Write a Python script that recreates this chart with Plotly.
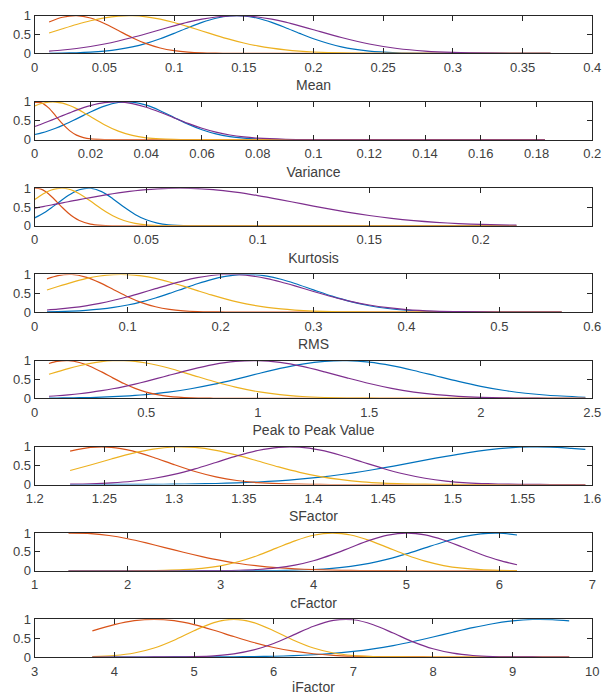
import plotly.graph_objects as go

# ---------------- data ----------------
mean_x = [0.0103, 0.02, 0.03, 0.04, 0.05, 0.06, 0.07, 0.08, 0.09, 0.10, 0.11, 0.12, 0.13, 0.14,
          0.15, 0.16, 0.17, 0.18, 0.19, 0.20, 0.22, 0.24, 0.26, 0.28, 0.30, 0.33, 0.37]
mean_blue = [0.003, 0.008, 0.016, 0.032, 0.060, 0.105, 0.172, 0.267, 0.389, 0.531, 0.682, 0.823, 0.932, 0.992,
             0.992, 0.932, 0.823, 0.682, 0.531, 0.389, 0.172, 0.060, 0.016, 0.003, 0, 0, 0]
mean_orange = [0.834, 0.958, 1.0, 0.939, 0.795, 0.607, 0.417, 0.258, 0.144, 0.073, 0.033, 0.013, 0.005, 0.001,
               0, 0, 0, 0, 0, 0, 0, 0, 0, 0, 0, 0, 0]
mean_yellow = [0.54, 0.654, 0.767, 0.867, 0.944, 0.989, 0.999, 0.971, 0.909, 0.819, 0.711, 0.595, 0.479, 0.371,
               0.277, 0.199, 0.138, 0.092, 0.059, 0.037, 0.012, 0.004, 0.001, 0, 0, 0, 0]
mean_purple = [0.061, 0.090, 0.130, 0.183, 0.249, 0.329, 0.421, 0.522, 0.628, 0.732, 0.828, 0.908, 0.966, 0.996,
               0.996, 0.966, 0.908, 0.828, 0.732, 0.628, 0.421, 0.249, 0.130, 0.061, 0.025, 0.005, 0]

var_x = [0, 0.0025, 0.005, 0.0075, 0.01, 0.0125, 0.015, 0.0175, 0.02, 0.025, 0.03, 0.035, 0.04, 0.045,
         0.05, 0.055, 0.06, 0.065, 0.07, 0.075, 0.08, 0.09, 0.1, 0.12, 0.15, 0.183]
var_blue = [0.135, 0.181, 0.237, 0.303, 0.378, 0.462, 0.551, 0.643, 0.733, 0.889, 0.984, 0.993, 0.914, 0.768,
            0.588, 0.411, 0.262, 0.152, 0.081, 0.039, 0.017, 0.003, 0, 0, 0, 0]
var_orange = [0.989, 0.976, 0.841, 0.633, 0.416, 0.239, 0.120, 0.053, 0.020, 0.002, 0, 0, 0, 0,
              0, 0, 0, 0, 0, 0, 0, 0, 0, 0, 0, 0]
var_yellow = [0.892, 0.958, 0.994, 0.997, 0.967, 0.907, 0.823, 0.721, 0.611, 0.396, 0.225, 0.111, 0.048, 0.018,
              0.006, 0.002, 0, 0, 0, 0, 0, 0, 0, 0, 0, 0]
var_purple = [0.349, 0.416, 0.487, 0.561, 0.637, 0.711, 0.783, 0.848, 0.904, 0.980, 0.999, 0.956, 0.860, 0.726,
              0.576, 0.430, 0.301, 0.198, 0.122, 0.071, 0.039, 0.010, 0.002, 0, 0, 0]

kurt_x = [0, 0.0025, 0.005, 0.0075, 0.01, 0.0125, 0.015, 0.0175, 0.02, 0.025, 0.03, 0.035, 0.04, 0.045,
          0.05, 0.055, 0.06, 0.07, 0.08, 0.09, 0.1, 0.11, 0.12, 0.13, 0.14, 0.15, 0.16, 0.17, 0.18,
          0.19, 0.2, 0.216]
kurt_blue = [0.211, 0.287, 0.377, 0.479, 0.589, 0.699, 0.803, 0.892, 0.958, 0.997, 0.907, 0.721, 0.501, 0.304,
             0.161, 0.074, 0.030, 0.003, 0, 0, 0, 0, 0, 0, 0, 0, 0, 0, 0, 0, 0, 0]
kurt_orange = [0.999, 0.980, 0.902, 0.779, 0.631, 0.480, 0.342, 0.229, 0.144, 0.047, 0.012, 0.002, 0, 0,
               0, 0, 0, 0, 0, 0, 0, 0, 0, 0, 0, 0, 0, 0, 0, 0, 0, 0]
kurt_yellow = [0.700, 0.800, 0.886, 0.951, 0.990, 0.999, 0.978, 0.928, 0.853, 0.658, 0.448, 0.269, 0.143, 0.067,
               0.028, 0.010, 0.003, 0, 0, 0, 0, 0, 0, 0, 0, 0, 0, 0, 0, 0, 0, 0]
kurt_purple = [0.470, 0.498, 0.526, 0.554, 0.582, 0.611, 0.640, 0.668, 0.696, 0.751, 0.803, 0.851, 0.894, 0.931,
               0.961, 0.982, 0.996, 0.996, 0.961, 0.894, 0.803, 0.696, 0.582, 0.470, 0.366, 0.275, 0.199,
               0.139, 0.094, 0.061, 0.039, 0.017]

rms_x = [0.0132, 0.025, 0.04, 0.055, 0.07, 0.085, 0.1, 0.115, 0.13, 0.145, 0.16, 0.175, 0.19, 0.205, 0.22,
         0.235, 0.25, 0.265, 0.28, 0.3, 0.32, 0.34, 0.36, 0.38, 0.4, 0.43, 0.46, 0.5, 0.567]
rms_blue = [0.009, 0.015, 0.027, 0.047, 0.078, 0.124, 0.188, 0.272, 0.375, 0.495, 0.624, 0.751, 0.863, 0.947,
            0.994, 0.995, 0.952, 0.870, 0.759, 0.589, 0.422, 0.278, 0.169, 0.095, 0.049, 0.016, 0.004, 0, 0]
rms_orange = [0.880, 0.968, 0.998, 0.929, 0.782, 0.594, 0.407, 0.252, 0.141, 0.071, 0.033, 0.013, 0.005, 0.002,
              0, 0, 0, 0, 0, 0, 0, 0, 0, 0, 0, 0, 0, 0, 0]
rms_yellow = [0.587, 0.679, 0.790, 0.886, 0.957, 0.995, 0.996, 0.960, 0.892, 0.797, 0.687, 0.570, 0.455, 0.350,
              0.259, 0.185, 0.127, 0.084, 0.054, 0.028, 0.013, 0.006, 0.002, 0, 0, 0, 0, 0, 0]
rms_purple = [0.056, 0.078, 0.117, 0.167, 0.233, 0.313, 0.407, 0.511, 0.621, 0.730, 0.830, 0.913, 0.971, 0.998,
              0.993, 0.954, 0.888, 0.798, 0.694, 0.547, 0.407, 0.285, 0.188, 0.117, 0.068, 0.027, 0.010, 0.002, 0]

p2p_x = [0.064, 0.1, 0.15, 0.2, 0.25, 0.3, 0.35, 0.4, 0.45, 0.5, 0.55, 0.6, 0.7, 0.8, 0.9, 1.0, 1.1, 1.2,
         1.3, 1.4, 1.5, 1.6, 1.7, 1.8, 1.9, 2.0, 2.1, 2.2, 2.3, 2.469]
p2p_blue = [0.006, 0.008, 0.011, 0.016, 0.022, 0.031, 0.043, 0.057, 0.076, 0.100, 0.129, 0.164, 0.253, 0.368,
            0.504, 0.651, 0.792, 0.908, 0.981, 0.999, 0.958, 0.866, 0.738, 0.592, 0.448, 0.319, 0.214, 0.135,
            0.081, 0.029]
p2p_orange = [0.923, 0.978, 0.999, 0.951, 0.846, 0.701, 0.543, 0.392, 0.264, 0.166, 0.097, 0.053, 0.013, 0.002,
              0, 0, 0, 0, 0, 0, 0, 0, 0, 0, 0, 0, 0, 0, 0, 0]
p2p_yellow = [0.638, 0.702, 0.788, 0.864, 0.927, 0.972, 0.996, 0.998, 0.978, 0.937, 0.878, 0.804, 0.630, 0.452,
              0.295, 0.177, 0.097, 0.048, 0.022, 0.009, 0.004, 0.001, 0, 0, 0, 0, 0, 0, 0, 0]
p2p_purple = [0.055, 0.068, 0.092, 0.121, 0.158, 0.202, 0.253, 0.312, 0.378, 0.450, 0.527, 0.607, 0.762, 0.894,
              0.978, 0.999, 0.951, 0.846, 0.701, 0.543, 0.392, 0.264, 0.166, 0.097, 0.053, 0.027, 0.013, 0.006,
              0.002, 0]

sf_x = [1.2254, 1.24, 1.255, 1.27, 1.285, 1.30, 1.315, 1.33, 1.345, 1.36, 1.375, 1.39, 1.405, 1.42, 1.435,
        1.45, 1.465, 1.48, 1.495, 1.51, 1.525, 1.54, 1.555, 1.57, 1.585, 1.595]
sf_blue = [0, 0.001, 0.002, 0.003, 0.006, 0.011, 0.018, 0.028, 0.044, 0.067, 0.099, 0.142, 0.197, 0.266, 0.347,
           0.440, 0.541, 0.647, 0.749, 0.842, 0.918, 0.972, 0.998, 0.994, 0.961, 0.935]
sf_orange = [0.886, 0.985, 0.988, 0.892, 0.724, 0.528, 0.346, 0.204, 0.108, 0.052, 0.022, 0.009, 0.003, 0.001,
             0, 0, 0, 0, 0, 0, 0, 0, 0, 0, 0, 0]
sf_yellow = [0.373, 0.519, 0.678, 0.827, 0.940, 0.996, 0.985, 0.907, 0.780, 0.625, 0.467, 0.325, 0.211, 0.128,
             0.072, 0.038, 0.019, 0.009, 0.004, 0.001, 0, 0, 0, 0, 0, 0]
sf_purple = [0.009, 0.021, 0.045, 0.088, 0.161, 0.270, 0.415, 0.586, 0.760, 0.904, 0.988, 0.991, 0.912, 0.771,
             0.598, 0.426, 0.279, 0.167, 0.092, 0.047, 0.022, 0.009, 0.004, 0.001, 0, 0]

cf_x = [1.364, 1.6, 1.8, 2.0, 2.2, 2.4, 2.6, 2.8, 3.0, 3.2, 3.4, 3.6, 3.8, 4.0, 4.2, 4.4, 4.6, 4.8, 5.0,
        5.2, 5.4, 5.6, 5.8, 6.0, 6.19]
cf_blue = [0, 0, 0, 0, 0, 0, 0, 0, 0, 0.001, 0.003, 0.007, 0.016, 0.034, 0.066, 0.118, 0.198, 0.309, 0.448,
           0.607, 0.764, 0.897, 0.980, 0.999, 0.950]
cf_orange = [0.996, 0.988, 0.936, 0.850, 0.739, 0.616, 0.491, 0.376, 0.275, 0.193, 0.130, 0.084, 0.052, 0.030,
             0.017, 0.009, 0.005, 0.002, 0.001, 0, 0, 0, 0, 0, 0]
cf_yellow = [0, 0, 0, 0.001, 0.004, 0.011, 0.028, 0.064, 0.132, 0.245, 0.405, 0.600, 0.794, 0.942, 1.0, 0.950,
             0.807, 0.614, 0.418, 0.254, 0.139, 0.068, 0.029, 0.012, 0.004]
cf_purple = [0, 0, 0, 0, 0, 0, 0, 0.002, 0.005, 0.014, 0.034, 0.075, 0.149, 0.266, 0.427, 0.618, 0.806, 0.946,
             1.0, 0.952, 0.816, 0.630, 0.438, 0.274, 0.160]

if_x = [3.724, 4.0, 4.25, 4.5, 4.75, 5.0, 5.25, 5.5, 5.75, 6.0, 6.25, 6.5, 6.75, 7.0, 7.25, 7.5, 7.75, 8.0,
        8.25, 8.5, 8.75, 9.0, 9.25, 9.5, 9.71]
if_blue = [0, 0, 0, 0, 0.001, 0.001, 0.003, 0.006, 0.011, 0.020, 0.036, 0.060, 0.096, 0.147, 0.216, 0.304,
           0.411, 0.531, 0.657, 0.778, 0.882, 0.958, 0.997, 0.992, 0.956]
if_orange = [0.692, 0.858, 0.963, 1.0, 0.963, 0.858, 0.709, 0.543, 0.385, 0.253, 0.154, 0.087, 0.045, 0.022,
             0.010, 0.004, 0.002, 0, 0, 0, 0, 0, 0, 0, 0]
if_yellow = [0.011, 0.040, 0.106, 0.238, 0.446, 0.698, 0.914, 1.0, 0.914, 0.698, 0.446, 0.238, 0.106, 0.040,
             0.011, 0.003, 0, 0, 0, 0, 0, 0, 0, 0, 0]
if_purple = [0, 0, 0, 0.001, 0.003, 0.011, 0.032, 0.085, 0.189, 0.360, 0.587, 0.817, 0.972, 0.988, 0.857,
             0.636, 0.403, 0.218, 0.101, 0.040, 0.013, 0.004, 0.001, 0, 0]

titles = ["Mean", "Variance", "Kurtosis", "RMS", "Peak to Peak Value", "SFactor", "cFactor", "iFactor"]
x_ranges = [[0, 0.4], [0, 0.2], [0, 0.25], [0, 0.6], [0, 2.5], [1.2, 1.6], [1, 7], [3, 10]]
x_tickvals = [
    [0, 0.05, 0.1, 0.15, 0.2, 0.25, 0.3, 0.35, 0.4],
    [0, 0.02, 0.04, 0.06, 0.08, 0.1, 0.12, 0.14, 0.16, 0.18, 0.2],
    [0, 0.05, 0.1, 0.15, 0.2, 0.25],
    [0, 0.1, 0.2, 0.3, 0.4, 0.5, 0.6],
    [0, 0.5, 1, 1.5, 2, 2.5],
    [1.2, 1.25, 1.3, 1.35, 1.4, 1.45, 1.5, 1.55, 1.6],
    [1, 2, 3, 4, 5, 6, 7],
    [3, 4, 5, 6, 7, 8, 9, 10],
]
x_ticktext = [
    ["0", "0.05", "0.1", "0.15", "0.2", "0.25", "0.3", "0.35", "0.4"],
    ["0", "0.02", "0.04", "0.06", "0.08", "0.1", "0.12", "0.14", "0.16", "0.18", "0.2"],
    ["0", "0.05", "0.1", "0.15", "0.2", "0.25"],
    ["0", "0.1", "0.2", "0.3", "0.4", "0.5", "0.6"],
    ["0", "0.5", "1", "1.5", "2", "2.5"],
    ["1.2", "1.25", "1.3", "1.35", "1.4", "1.45", "1.5", "1.55", "1.6"],
    ["1", "2", "3", "4", "5", "6", "7"],
    ["3", "4", "5", "6", "7", "8", "9", "10"],
]
y_tickvals = [0, 0.5, 1]
y_ticktext = ["0", "0.5", "1"]

panels = [
    (mean_x, mean_blue, mean_orange, mean_yellow, mean_purple),
    (var_x, var_blue, var_orange, var_yellow, var_purple),
    (kurt_x, kurt_blue, kurt_orange, kurt_yellow, kurt_purple),
    (rms_x, rms_blue, rms_orange, rms_yellow, rms_purple),
    (p2p_x, p2p_blue, p2p_orange, p2p_yellow, p2p_purple),
    (sf_x, sf_blue, sf_orange, sf_yellow, sf_purple),
    (cf_x, cf_blue, cf_orange, cf_yellow, cf_purple),
    (if_x, if_blue, if_orange, if_yellow, if_purple),
]
colors = ["#0072BD", "#D95319", "#EDB120", "#7E2F8E"]

# ---------------- figure ----------------
W, H = 603, 695
left_px, right_px = 34.7, 592.3
top0_px, step_px, height_px = 15.7, 86.23, 37.7
axis_col = "#262626"
text_col = "#404040"
font_family = "Liberation Sans, Arial, Helvetica, sans-serif"

fig = go.Figure()
layout = dict(
    width=W, height=H, autosize=False,
    margin=dict(l=0, r=0, t=0, b=0, autoexpand=False),
    paper_bgcolor="white", plot_bgcolor="white",
    showlegend=False,
    font=dict(family=font_family, size=13, color=text_col),
)

for i, (px, b, o, y, p) in enumerate(panels):
    n = "" if i == 0 else str(i + 1)
    top = top0_px + step_px * i
    bot = top + height_px
    for vals, c in zip((b, o, y, p), colors):
        fig.add_trace(go.Scatter(
            x=px, y=vals, mode="lines",
            line=dict(color=c, width=1.2, shape="spline", smoothing=0.8),
            xaxis="x" + n, yaxis="y" + n, hoverinfo="skip",
        ))
    common = dict(
        showline=True, linecolor=axis_col, linewidth=1, mirror="ticks",
        ticks="inside", ticklen=5, tickcolor=axis_col, tickwidth=1,
        showgrid=False, zeroline=False, automargin=False,
        tickfont=dict(family=font_family, size=13, color=text_col),
    )
    layout["xaxis" + n] = dict(
        common, domain=[left_px / W, right_px / W], anchor="y" + n,
        range=x_ranges[i], tickmode="array",
        tickvals=x_tickvals[i], ticktext=x_ticktext[i], ticklabelstandoff=2,
        title=dict(text=titles[i], font=dict(family=font_family, size=14, color=text_col), standoff=6),
    )
    layout["yaxis" + n] = dict(
        common, domain=[1 - bot / H, 1 - top / H], anchor="x" + n,
        range=[0, 1], tickmode="array",
        tickvals=y_tickvals, ticktext=y_ticktext,
    )

fig.update_layout(**layout)
fig.write_html("out.html")
